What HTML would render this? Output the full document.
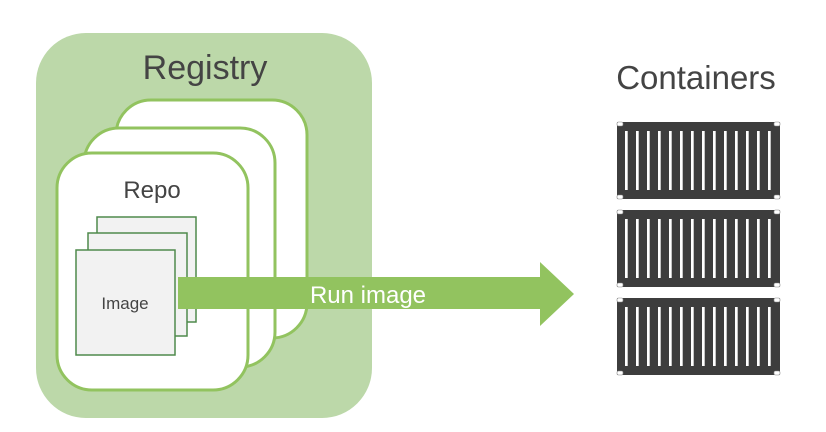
<!DOCTYPE html>
<html><head><style>body{margin:0;background:#fff}svg{display:block}</style></head><body>
<svg width="826" height="432" viewBox="0 0 826 432" xmlns="http://www.w3.org/2000/svg" font-family="Liberation Sans, sans-serif">
<rect x="36" y="33" width="336" height="385" rx="50" fill="#bcd8a9"/>
<text x="205" y="79" font-size="34" fill="#444" text-anchor="middle">Registry</text>
<g fill="#fff" stroke="#92c35f" stroke-width="3">
<rect x="116" y="100" width="191" height="238" rx="35"/>
<rect x="84" y="128" width="191" height="239" rx="35"/>
<rect x="57" y="153" width="191" height="237" rx="35"/>
</g>
<text x="152" y="198" font-size="24" fill="#444" text-anchor="middle">Repo</text>
<g fill="#f2f2f2" stroke="#4f8a4c" stroke-width="1.5">
<rect x="97" y="217" width="99" height="105"/>
<rect x="88" y="233" width="99" height="103"/>
<rect x="76" y="250" width="99" height="105"/>
</g>
<text x="125" y="309" font-size="17" fill="#444" text-anchor="middle">Image</text>
<polygon points="178,277 540,277 540,262 574,294 540,326 540,309 178,309" fill="#92c35f"/>
<text x="368" y="303" font-size="24" fill="#fff" text-anchor="middle">Run image</text>
<text x="696" y="89" font-size="33" fill="#444" text-anchor="middle">Containers</text>
<defs>
<g id="c">
<rect x="617" y="0" width="163" height="77" fill="#3d3d3d"/>
<g fill="#fff" stroke="#888" stroke-width="0.6">
<rect x="617" y="0" width="6" height="4" rx="1.5"/><rect x="774" y="0" width="6" height="4" rx="1.5"/>
<rect x="617" y="73" width="6" height="4" rx="1.5"/><rect x="774" y="73" width="6" height="4" rx="1.5"/>
</g>
<g fill="#fff">
<rect x="625" y="9" width="2.7" height="59"/><rect x="636" y="9" width="2.7" height="59"/><rect x="647" y="9" width="2.7" height="59"/><rect x="658" y="9" width="2.7" height="59"/><rect x="669" y="9" width="2.7" height="59"/><rect x="680" y="9" width="2.7" height="59"/><rect x="691" y="9" width="2.7" height="59"/><rect x="702" y="9" width="2.7" height="59"/><rect x="713" y="9" width="2.7" height="59"/><rect x="724" y="9" width="2.7" height="59"/><rect x="735" y="9" width="2.7" height="59"/><rect x="746" y="9" width="2.7" height="59"/><rect x="757" y="9" width="2.7" height="59"/><rect x="768" y="9" width="2.7" height="59"/>
</g>
</g>
</defs>
<use href="#c" y="122"/>
<use href="#c" y="210"/>
<use href="#c" y="298"/>
</svg>
</body></html>
